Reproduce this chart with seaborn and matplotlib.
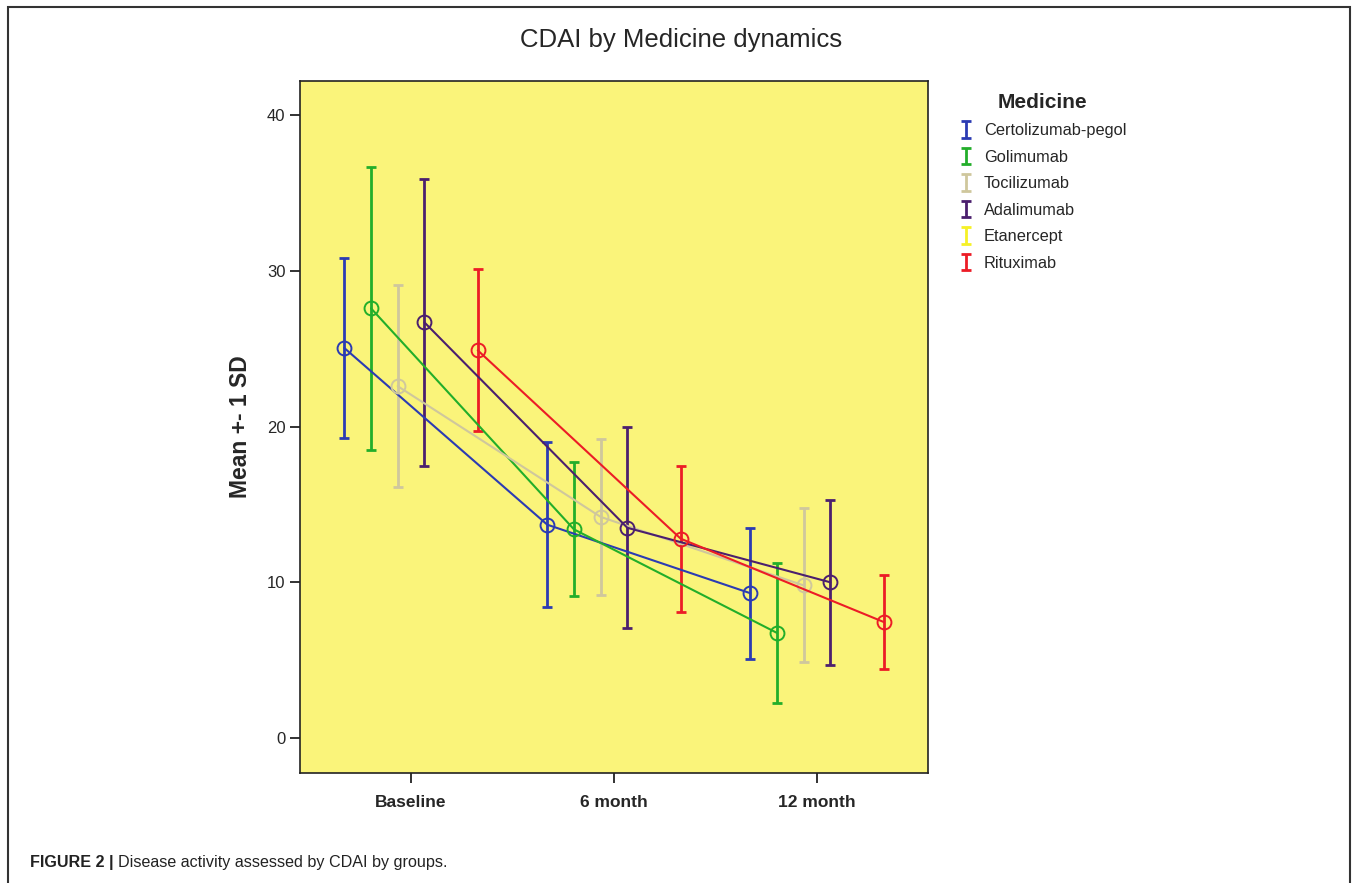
import matplotlib
matplotlib.use("Agg")
import matplotlib.pyplot as plt
from matplotlib.patches import Rectangle
import seaborn as sns
import pandas as pd
import numpy as np

# --- data ---
timepoints = ["Baseline", "6 month", "12 month"]
medicines = ["Certolizumab-pegol", "Golimumab", "Tocilizumab",
             "Adalimumab", "Etanercept", "Rituximab"]

# mean CDAI per medicine, one list per time point (same order as medicines)
# Etanercept is drawn yellow on the yellow background -> nothing readable
mean_baseline = [25.05, 27.6, 22.6, 26.7, np.nan, 24.9]
mean_6m = [13.7, 13.4, 14.2, 13.5, np.nan, 12.8]
mean_12m = [9.3, 6.75, 9.8, 10.0, np.nan, 7.45]

# standard deviation per medicine
sd_baseline = [5.8, 9.1, 6.5, 9.2, np.nan, 5.2]
sd_6m = [5.3, 4.3, 5.0, 6.45, np.nan, 4.7]
sd_12m = [4.2, 4.5, 4.95, 5.3, np.nan, 3.0]

colors = ["#2b3bb3", "#22ae2a", "#cfc79d", "#4b1f6e", "#f6f126", "#ec1c26"]

# build long table
rows = []
for t, (means, sds) in enumerate([(mean_baseline, sd_baseline),
                                  (mean_6m, sd_6m),
                                  (mean_12m, sd_12m)]):
    for i, med in enumerate(medicines):
        rows.append({"time": t, "medicine": med, "mean": means[i], "sd": sds[i]})
df = pd.DataFrame(rows)

dodge = 0.1315
df["xpos"] = df["time"] + (df["medicine"].map({m: i for i, m in enumerate(medicines)}) - 2.5) * dodge

sns.set_style("ticks")
plt.rcParams["font.family"] = ["Liberation Sans", "DejaVu Sans"]

W, H = 1358, 883
fig = plt.figure(figsize=(W / 100, H / 100), dpi=100)
ax = fig.add_axes([300 / W, 1 - 773 / H, (928 - 300) / W, (773 - 81) / H])
ax.set_facecolor("#faf47a")

palette = dict(zip(medicines, colors))

# error bars (mean +- 1 SD)
handles = []
for med in medicines:
    sub = df[df["medicine"] == med]
    eb = ax.errorbar(sub["xpos"], sub["mean"], yerr=sub["sd"], fmt="none",
                     ecolor=palette[med], elinewidth=2.0, capsize=3.3, capthick=2.0,
                     zorder=2)
    for cap in eb[1]:
        cap.set_color(palette[med])
        cap.set_markeredgecolor(palette[med])
        cap.set_markerfacecolor(palette[med])
    handles.append(eb)

# connecting lines with open circle markers
sns.lineplot(data=df.dropna(), x="xpos", y="mean", hue="medicine", hue_order=medicines,
             palette=palette, sort=False, estimator=None, marker="o",
             markersize=10, linewidth=1.5, legend=False, ax=ax, zorder=3)
for line in ax.lines:
    if line.get_marker() == "o":
        line.set_markerfacecolor("none")
        line.set_markeredgecolor(line.get_color())
        line.set_markeredgewidth(1.4)

ax.set_xlim(-0.547, 2.547)
ax.set_ylim(-2.25, 42.2)
ax.set_xticks(range(len(timepoints)))
ax.set_xticklabels(timepoints, fontsize=12.5, fontweight="bold")
ax.set_yticks([0, 10, 20, 30, 40])
ax.tick_params(axis="y", labelsize=12, length=7, width=1.3, color="#222222")
ax.tick_params(axis="x", length=7, width=1.3, color="#222222", pad=9)
ax.set_xlabel("")
ax.set_ylabel("Mean +- 1 SD", fontsize=16.5, fontweight="bold", labelpad=11)
for s in ax.spines.values():
    s.set_linewidth(1.2)
    s.set_color("#222222")

fig.text(681 / W, 1 - 40 / H, "CDAI by Medicine dynamics", ha="center",
         va="center", fontsize=18.5)

leg = fig.legend(handles, medicines, title="Medicine", loc="upper left",
                 bbox_to_anchor=(943 / W, 1 - 78 / H), frameon=False,
                 fontsize=11.8, handlelength=1.0, handletextpad=0.6,
                 labelspacing=0.7)
leg.get_title().set_fontweight("bold")
leg.get_title().set_fontsize(15)

# figure frame
fig.patches.append(Rectangle((8 / W, -0.1), (1350 - 8) / W, 1.1 - 7 / H,
                             transform=fig.transFigure, fill=False,
                             edgecolor="#333333", linewidth=1.5))

# caption
renderer = fig.canvas.get_renderer()
t1 = fig.text(30 / W, 1 - 862 / H, "FIGURE 2 |", fontsize=11.6, fontweight="bold",
              va="center", color="#222222")
bb = t1.get_window_extent(renderer)
fig.text((bb.x1 + 4) / W, 1 - 862 / H, "Disease activity assessed by CDAI by groups.",
         fontsize=11.6, va="center", color="#222222")

fig.savefig("out.png", dpi=100)
